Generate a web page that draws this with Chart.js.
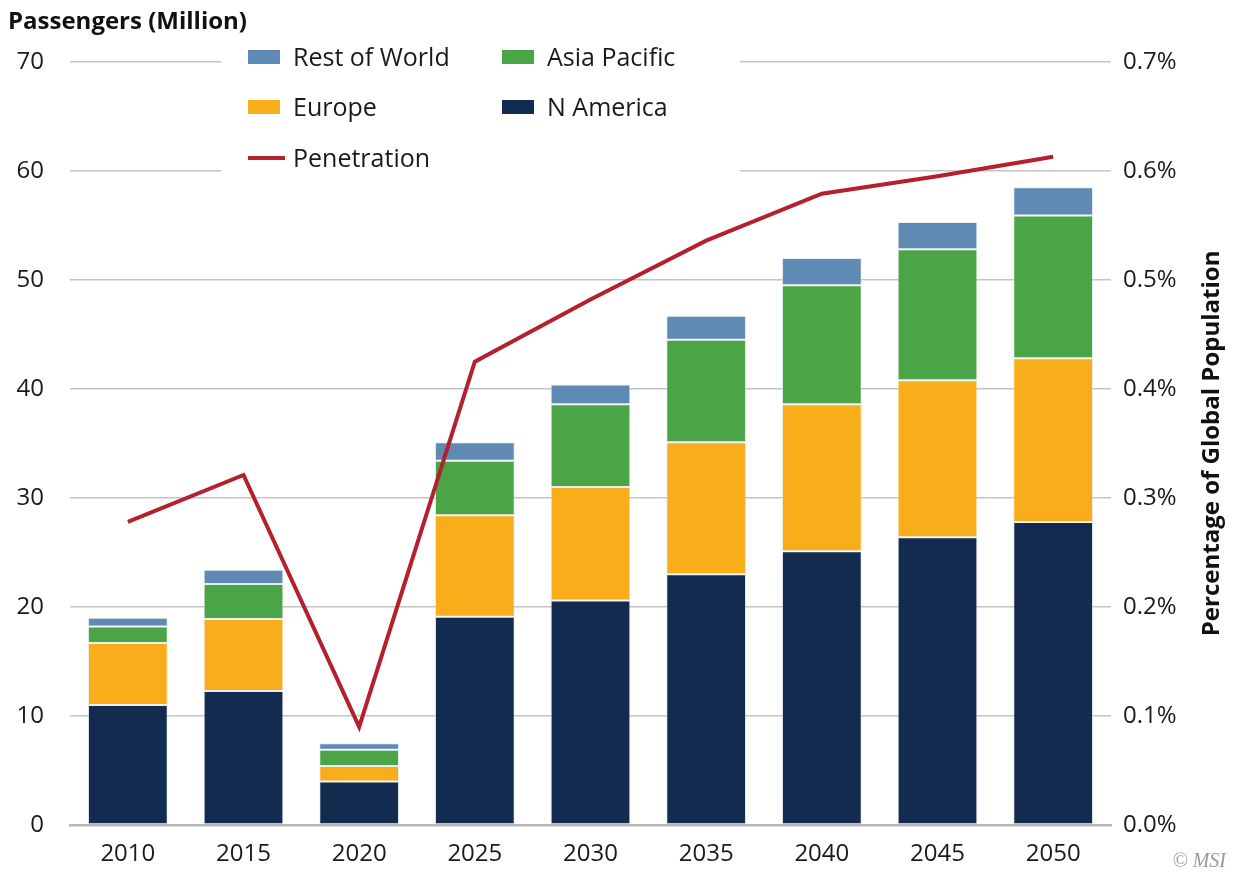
<!DOCTYPE html>
<html>
<head>
<meta charset="utf-8">
<script src="https://cdn.jsdelivr.net/npm/chart.js@4/dist/chart.umd.min.js"></script>
<style>
html,body{margin:0;padding:0;background:#ffffff;}
#wrap{width:1234px;height:873px;position:relative;}
</style>
</head>
<body>
<div id="wrap"><canvas id="c" width="1234" height="873"></canvas></div>
<script>
// ---- data ----
const categories = ['2010','2015','2020','2025','2030','2035','2040','2045','2050'];
const nAmerica    = [11.0, 12.3, 4.0, 19.1, 20.6, 23.0, 25.1, 26.4, 27.8];
const europe      = [5.7, 6.6, 1.4, 9.3, 10.4, 12.1, 13.5, 14.4, 15.0];
const asiaPacific = [1.5, 3.2, 1.5, 5.0, 7.6, 9.4, 10.9, 12.0, 13.1];
const restOfWorld = [0.8, 1.3, 0.6, 1.7, 1.8, 2.2, 2.5, 2.5, 2.6];
const penetration = [0.278, 0.321, 0.090, 0.425, 0.482, 0.536, 0.579, 0.595, 0.613]; // percent
const leftTickStep = 10;
const rightTickStep = 0.1;

const FONT = '"Open Sans", "Noto Sans", sans-serif';
const TEXT = '#1a1a1a';
const COLORS = {
  nAmerica: '#122b4e',
  europe: '#f9ad1b',
  asiaPacific: '#4ba446',
  restOfWorld: '#5e8ab4',
  penetration: '#b5202e'
};

// custom in-plot legend with white background (as in the reference)
const legendPlugin = {
  id: 'insetLegend',
  beforeDatasetsDraw(chart) {
    const ctx = chart.ctx;
    ctx.save();
    ctx.fillStyle = '#ffffff';
    ctx.fillRect(221, 34, 519, 150);
    const items = [
      {label: 'Rest of World', color: COLORS.restOfWorld, x: 248, y: 57, type: 'box'},
      {label: 'Asia Pacific', color: COLORS.asiaPacific, x: 502, y: 57, type: 'box'},
      {label: 'Europe', color: COLORS.europe, x: 248, y: 107, type: 'box'},
      {label: 'N America', color: COLORS.nAmerica, x: 502, y: 107, type: 'box'},
      {label: 'Penetration', color: COLORS.penetration, x: 248, y: 158, type: 'line'}
    ];
    ctx.font = '25px ' + FONT;
    ctx.textBaseline = 'middle';
    ctx.textAlign = 'left';
    items.forEach(it => {
      ctx.fillStyle = it.color;
      if (it.type === 'box') {
        ctx.fillRect(it.x, it.y - 7, 32, 14);
      } else {
        ctx.fillRect(it.x, it.y - 2, 37, 4);
      }
      ctx.fillStyle = TEXT;
      ctx.fillText(it.label, it.x + 45, it.y + 2);
    });
    ctx.restore();
  },
  afterDraw(chart) {
    const ctx = chart.ctx;
    const a = chart.chartArea;
    ctx.save();
    // right axis title, reading bottom-to-top
    ctx.translate(1212, (a.top + a.bottom) / 2);
    ctx.rotate(-Math.PI / 2);
    ctx.font = 'bold 24px ' + FONT;
    ctx.fillStyle = '#111111';
    ctx.textAlign = 'center';
    ctx.textBaseline = 'middle';
    ctx.fillText('Percentage of Global Population', 0, 0);
    ctx.restore();
    // copyright
    ctx.save();
    ctx.font = 'italic 20px "Liberation Serif", "DejaVu Serif", serif';
    ctx.fillStyle = '#9a9a9a';
    ctx.textAlign = 'right';
    ctx.textBaseline = 'middle';
    ctx.fillText('\u00A9 MSI', 1226, 862);
    ctx.restore();
  }
};

function build() {
  const ctx = document.getElementById('c').getContext('2d');
  const barCommon = {
    stack: 's',
    yAxisID: 'y',
    order: 2,
    barPercentage: 0.69,
    categoryPercentage: 1.0,
    borderWidth: 1,
    borderColor: 'rgba(215,225,236,0.5)',
    borderSkipped: false
  };
  new Chart(ctx, {
    type: 'bar',
    data: {
      labels: categories,
      datasets: [
        Object.assign({label: 'N America', data: nAmerica, backgroundColor: COLORS.nAmerica}, barCommon),
        Object.assign({label: 'Europe', data: europe, backgroundColor: COLORS.europe}, barCommon),
        Object.assign({label: 'Asia Pacific', data: asiaPacific, backgroundColor: COLORS.asiaPacific}, barCommon),
        Object.assign({label: 'Rest of World', data: restOfWorld, backgroundColor: COLORS.restOfWorld}, barCommon),
        {
          type: 'line',
          label: 'Penetration',
          data: penetration,
          yAxisID: 'y1',
          order: 0,
          borderColor: COLORS.penetration,
          backgroundColor: COLORS.penetration,
          borderWidth: 4,
          pointRadius: 0,
          tension: 0,
          fill: false,
          borderJoinStyle: 'miter'
        }
      ]
    },
    options: {
      responsive: false,
      animation: false,
      layout: {padding: {left: 8, right: 4, top: 0, bottom: 0}},
      plugins: {
        legend: {display: false},
        tooltip: {enabled: false},
        title: {
          display: true,
          text: 'Passengers (Million)',
          align: 'start',
          color: '#111111',
          font: {family: FONT, size: 24, weight: 'bold'},
          padding: {top: 8, bottom: 25}
        }
      },
      scales: {
        x: {
          stacked: true,
          grid: {display: false, drawTicks: false},
          border: {display: true, color: '#b5b5b5', width: 2.5},
          ticks: {font: {family: FONT, size: 24}, color: TEXT, padding: 15},
          afterFit(s) { s.height = 48; }
        },
        y: {
          stacked: true,
          min: 0,
          max: 70,
          ticks: {stepSize: leftTickStep, font: {family: FONT, size: 24}, color: TEXT, padding: 26},
          grid: {color: '#c4c4c4', lineWidth: 1.5, drawTicks: false},
          border: {display: false},
          afterFit(s) { s.width = 62; }
        },
        y1: {
          position: 'right',
          min: 0,
          max: 0.7,
          ticks: {
            stepSize: rightTickStep,
            font: {family: FONT, size: 24},
            color: TEXT,
            padding: 12,
            callback: v => v.toFixed(1) + '%'
          },
          grid: {drawOnChartArea: false, drawTicks: false},
          border: {display: false},
          afterFit(s) { s.width = 119; }
        }
      }
    },
    plugins: [legendPlugin]
  });
}

const loads = [
  document.fonts.load('24px "Open Sans"'),
  document.fonts.load('bold 24px "Open Sans"'),
  document.fonts.load('italic 20px "Liberation Serif"')
];
Promise.all(loads).then(build, build);
</script>
</body>
</html>
